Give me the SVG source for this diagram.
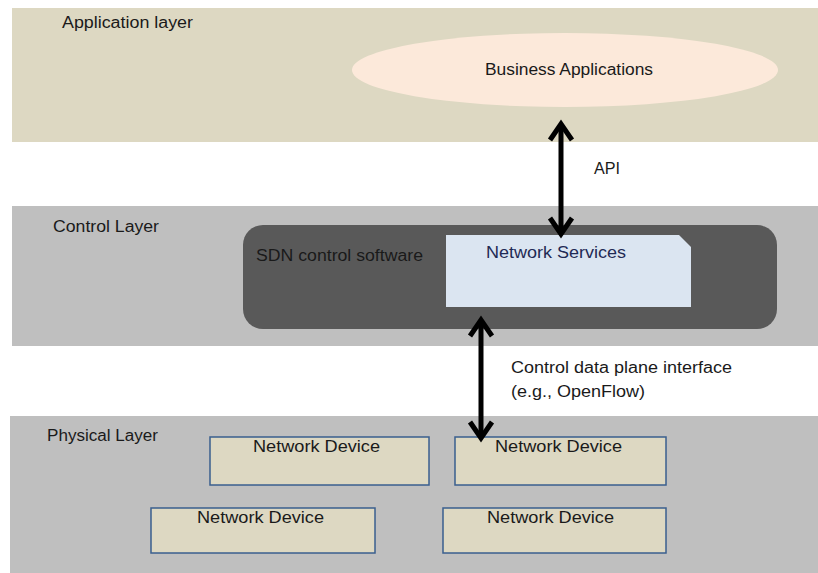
<svg xmlns="http://www.w3.org/2000/svg" width="818" height="573" viewBox="0 0 818 573">
<style>
text{font-family:"Liberation Sans",Arial,sans-serif;font-size:16px;fill:#1a1a1a}
.band-app{fill:#ddd8c2}
.band-gray{fill:#bfbfbf}
.dev{fill:#ddd8c2;stroke:#3a5f8f;stroke-width:1.5}
.conn{stroke:#000;stroke-width:5;fill:none}
.head{stroke:#000;stroke-width:5;fill:none;stroke-linejoin:miter;stroke-linecap:butt}
</style>
<rect width="818" height="573" fill="#fff"/>
<g id="application-layer">
<rect class="band-app" x="12" y="8" width="806" height="134"/>
<text x="62" y="28" textLength="131" lengthAdjust="spacingAndGlyphs">Application layer</text>
</g>
<g id="business-applications">
<ellipse cx="565" cy="70" rx="213" ry="37" fill="#fce9da"/>
<text x="485" y="75" textLength="168" lengthAdjust="spacingAndGlyphs">Business Applications</text>
</g>
<g id="control-layer">
<rect class="band-gray" x="12" y="206" width="806" height="140"/>
<text x="53" y="232" textLength="106" lengthAdjust="spacingAndGlyphs">Control Layer</text>
</g>
<g id="sdn-control-software">
<rect x="243" y="225" width="534" height="104" rx="20" fill="#595959"/>
<text x="256" y="261" textLength="167" lengthAdjust="spacingAndGlyphs">SDN control software</text>
</g>
<g id="network-services">
<path d="M446 235 H679 L691 247 V307 H446 Z" fill="#dbe5f1"/>
<text x="486" y="258" textLength="140" lengthAdjust="spacingAndGlyphs" style="fill:#1f2a55">Network Services</text>
</g>
<g id="physical-layer">
<rect class="band-gray" x="10" y="416" width="808" height="157"/>
<text x="47" y="441" textLength="111" lengthAdjust="spacingAndGlyphs">Physical Layer</text>
</g>
<g id="device-1">
<rect class="dev" x="210" y="437" width="219" height="48"/>
<text x="253" y="452" textLength="127" lengthAdjust="spacingAndGlyphs">Network Device</text>
</g>
<g id="device-2">
<rect class="dev" x="455" y="437" width="211" height="48"/>
<text x="495" y="452" textLength="127" lengthAdjust="spacingAndGlyphs">Network Device</text>
</g>
<g id="device-3">
<rect class="dev" x="151" y="508" width="224" height="45"/>
<text x="197" y="523" textLength="127" lengthAdjust="spacingAndGlyphs">Network Device</text>
</g>
<g id="device-4">
<rect class="dev" x="443" y="508" width="223" height="45"/>
<text x="487" y="523" textLength="127" lengthAdjust="spacingAndGlyphs">Network Device</text>
</g>
<g id="connectors">
<line class="conn" x1="561" y1="124" x2="561" y2="234"/>
<polyline class="head" points="550,140 561,124 572,140"/>
<polyline class="head" points="550,218 561,234 572,218"/>
<text x="594" y="174" textLength="26" lengthAdjust="spacingAndGlyphs">API</text>
<line class="conn" x1="481" y1="320" x2="481" y2="438"/>
<polyline class="head" points="470,336 481,320 492,336"/>
<polyline class="head" points="470,422 481,438 492,422"/>
<text x="511" y="373" textLength="221" lengthAdjust="spacingAndGlyphs">Control data plane interface</text>
<text x="511" y="397" textLength="134" lengthAdjust="spacingAndGlyphs">(e.g., OpenFlow)</text>
</g>
</svg>
